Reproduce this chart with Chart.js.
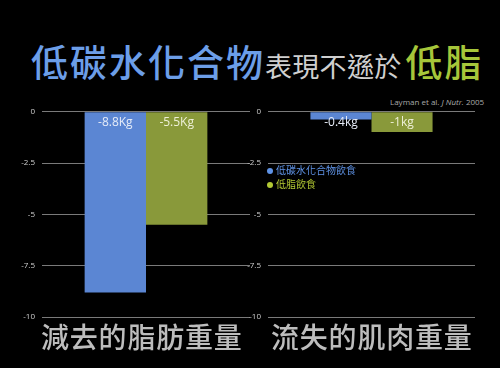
<!DOCTYPE html>
<html><head><meta charset="utf-8">
<script src="https://cdn.jsdelivr.net/npm/chart.js@4"></script>
<style>
html,body{margin:0;padding:0;background:#000;width:500px;height:368px;overflow:hidden;}
#wrap{position:relative;width:500px;height:368px;font-family:"Noto Sans CJK TC","Noto Sans",sans-serif;}
.abs{position:absolute;white-space:nowrap;}
#c1{position:absolute;left:0;top:100px;}
#c2{position:absolute;left:240px;top:100px;}
</style></head><body>
<div id="wrap">
  <div class="abs" style="left:31px;top:36px;line-height:50px;">
    <span style="font-size:37px;color:#6c9ee8;letter-spacing:2px;font-weight:500;">低碳水化合物</span><span style="font-size:27px;color:#cfcfcf;letter-spacing:0.3px;">表現不遜於</span><span style="font-size:37px;color:#a6c63a;letter-spacing:2px;font-weight:500;margin-left:4px;">低脂</span>
  </div>
  <div class="abs" style="left:390px;top:96px;font-size:8px;color:#aaa;font-family:'Open Sans',sans-serif;">Layman et al. <i>J Nutr.</i> 2005</div>
  <canvas id="c1" width="255" height="230"></canvas>
  <canvas id="c2" width="255" height="230"></canvas>
  <div class="abs" style="left:267px;top:163px;font-size:10px;line-height:14px;">
    <div style="color:#5f93e6;"><span style="display:inline-block;width:6px;height:6px;border-radius:50%;background:#5f93e6;margin-right:3px;vertical-align:middle;"></span>低碳水化合物飲食</div>
    <div style="color:#b3c934;"><span style="display:inline-block;width:6px;height:6px;border-radius:50%;background:#b3c934;margin-right:3px;vertical-align:middle;"></span>低脂飲食</div>
  </div>
  <div class="abs" style="left:41px;top:316px;font-size:28px;line-height:40px;color:#bdbdbd;letter-spacing:0.8px;font-weight:500;">減去的脂肪重量</div>
  <div class="abs" style="left:271px;top:316px;font-size:28px;line-height:40px;color:#bdbdbd;letter-spacing:0.8px;font-weight:500;">流失的肌肉重量</div>
</div>
<script>
const seriesNames = ["低碳水化合物飲食", "低脂飲食"];
const fatLoss = [-8.8, -5.5];
const fatLabels = ["-8.8Kg", "-5.5Kg"];
const muscleLoss = [-0.37, -0.98];
const muscleLabels = ["-0.4kg", "-1kg"];
const yTicks = [0, -2.5, -5, -7.5, -10];
const barColors = ["#5b86d3", "#89993a"];

const labelPlugin = {
  id: 'barLabels',
  afterDatasetsDraw(chart, args, opts) {
    const ctx = chart.ctx;
    const y0 = chart.scales.y.getPixelForValue(0);
    ctx.save();
    ctx.font = '12px "Open Sans", sans-serif';
    ctx.textAlign = 'center';
    ctx.textBaseline = 'middle';
    chart.data.datasets.forEach((ds, i) => {
      const bar = chart.getDatasetMeta(i).data[0];
      ctx.fillStyle = i === 0 ? '#e6ecf8' : '#eef0d8';
      ctx.fillText(opts.texts[i], bar.x, y0 + 11);
    });
    ctx.restore();
  }
};

function makeChart(id, values, texts, axisWidth, padRight) {
  return new Chart(document.getElementById(id), {
    type: 'bar',
    data: {
      labels: [''],
      datasets: values.map((v, i) => ({
        label: seriesNames[i],
        data: [v],
        backgroundColor: barColors[i],
        borderWidth: 0
      }))
    },
    options: {
      responsive: false,
      animation: false,
      layout: { padding: { top: 10.7, bottom: 13, right: padRight, left: 0 } },
      plugins: { legend: { display: false }, tooltip: { enabled: false }, barLabels: { texts: texts } },
      datasets: { bar: { categoryPercentage: 0.59, barPercentage: 1.0 } },
      scales: {
        x: { display: false },
        y: {
          min: -10, max: 0,
          afterFit(s) { s.width = axisWidth; },
          afterBuildTicks(s) { s.ticks = yTicks.map(v => ({ value: v })); },
          border: { display: false },
          grid: { color: '#7a7a7a', lineWidth: 1, drawTicks: false },
          ticks: { color: '#cfcfcf', font: { size: 8, family: '"Open Sans", sans-serif' }, padding: 7 }
        }
      }
    },
    plugins: [labelPlugin]
  });
}
makeChart('c1', fatLoss, fatLabels, 42, 5);
makeChart('c2', muscleLoss, muscleLabels, 28, 20);
</script>
</body></html>
